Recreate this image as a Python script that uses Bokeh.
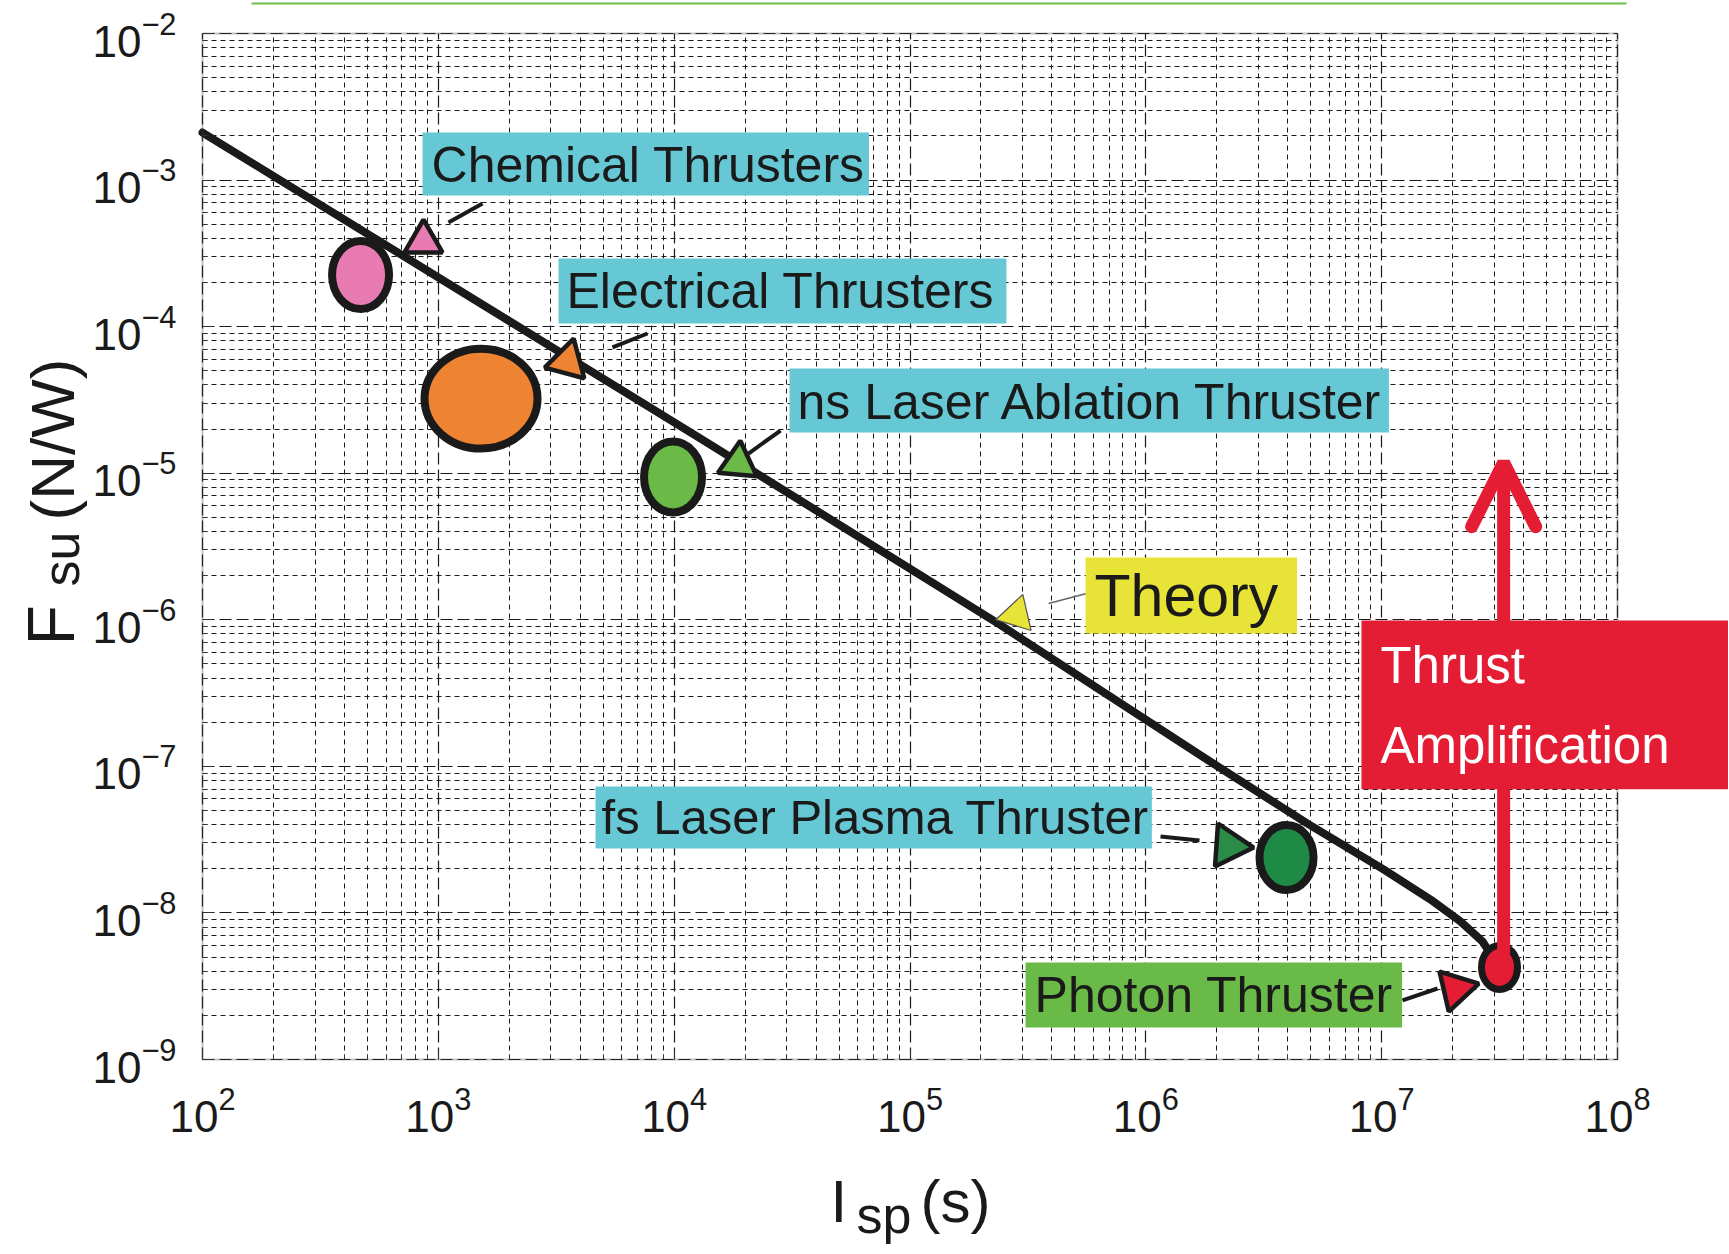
from bokeh.plotting import figure
from bokeh.models import Label, Arrow, OpenHead, FixedTicker, BoxAnnotation
from bokeh.embed import file_html
from bokeh.resources import INLINE

# ---------------- data ----------------
# theoretical curve (Isp in s, Fsu in N/W)
theory_isp = [1e2, 1.29e4, 2.37e5, 1.76e6, 4.85e6, 1.018e7, 1.612e7, 2.16e7, 2.677e7, 3.16e7]
theory_fsu = [2.11e-3, 1.73e-5, 9.4e-7, 1.15e-7, 4.07e-8, 1.98e-8, 1.234e-8, 8.74e-9, 6.38e-9, 4.25e-9]

# measured thrusters (ellipse markers)
thruster_names = ["Chemical Thrusters", "Electrical Thrusters", "ns Laser Ablation Thruster",
                  "fs Laser Plasma Thruster", "Photon Thruster"]
thruster_isp = [468, 1517, 9890, 3.95e6, 3.16e7]
thruster_fsu = [2.25e-4, 3.23e-5, 9.42e-6, 2.39e-8, 4.25e-9]
thruster_colors = ["#e97bb3", "#ee8432", "#6bb946", "#1e8a45", "#e41d35"]

# pointer triangles
pointer_names = ["Chemical Thrusters", "Electrical Thrusters", "ns Laser Ablation Thruster",
                 "Theory", "fs Laser Plasma Thruster", "Photon Thruster"]
pointer_isp = [865, 3530, 18710, 2.83e5, 2.25e6, 2.06e7]
pointer_fsu = [3.81e-4, 5.78e-5, 1.17e-5, 1.08e-6, 2.87e-8, 3.03e-9]
pointer_colors = ["#e97bb3", "#ee8432", "#6bb946", "#e8e337", "#2a8c46", "#e41d35"]

# axis ticks
x_ticks = [1e2, 1e3, 1e4, 1e5, 1e6, 1e7, 1e8]
y_ticks = [1e-9, 1e-8, 1e-7, 1e-6, 1e-5, 1e-4, 1e-3, 1e-2]

# ---------------- layout geometry (pixels) ----------------
W, H = 1728, 1252
BOX_L, BOX_R, BOX_T, BOX_B = 202, 1617, 33, 1059
XMIN, XMAX = x_ticks[0], x_ticks[-1]
YMIN, YMAX = y_ticks[0], y_ticks[-1]
dec_x = (BOX_R - BOX_L) / 6.0
dec_y = (BOX_B - BOX_T) / 7.0
# the frame covers the whole canvas so that annotations outside the axes box are not clipped
x_range = (10 ** (2 - BOX_L / dec_x), 10 ** (8 + (W - BOX_R) / dec_x))
y_range = (10 ** (-9 - (H - BOX_B) / dec_y), 10 ** (-2 + BOX_T / dec_y))

FONT = "Liberation Sans"
p = figure(width=W, height=H, x_axis_type="log", y_axis_type="log",
           x_range=x_range, y_range=y_range,
           output_backend="svg", toolbar_location=None, min_border=0)
p.background_fill_color = "white"
p.border_fill_color = "white"
p.outline_line_color = None

x_minor = [m * d for d in x_ticks[:-1] for m in range(2, 10)]
y_minor = [m * d for d in y_ticks[:-1] for m in range(2, 10)]
xt = FixedTicker(ticks=x_ticks, minor_ticks=x_minor)
yt = FixedTicker(ticks=y_ticks, minor_ticks=y_minor)
xax, yax = p.xaxis[0], p.yaxis[0]
xax.ticker = xt
yax.ticker = yt
xax.fixed_location = YMIN
yax.fixed_location = XMIN
xax.bounds = (XMIN, XMAX)
yax.bounds = (YMIN, YMAX)

for ax in (xax, yax):
    ax.axis_line_color = None
    ax.major_tick_in = 10
    ax.major_tick_out = 0
    ax.minor_tick_in = 5
    ax.minor_tick_out = 0
    ax.major_tick_line_color = "#333333"
    ax.minor_tick_line_color = "#333333"
    ax.major_label_text_font = FONT
    ax.major_label_text_font_size = "44px"
    ax.major_label_text_color = "#1a1a1a"
xax.major_label_standoff = 26
yax.major_label_standoff = 26

xg, yg = p.xgrid[0], p.ygrid[0]
xg.ticker = xt
yg.ticker = yt
mask_needed = False
try:
    xg.cross_bounds = (YMIN, YMAX)
    yg.cross_bounds = (XMIN, XMAX)
except Exception:
    mask_needed = True
xg.bounds = (XMIN, XMAX)
yg.bounds = (YMIN, YMAX)
for g in (xg, yg):
    g.grid_line_color = "#1a1a1a"
    g.grid_line_width = 1.2
    g.grid_line_dash = "12 5"
    g.minor_grid_line_color = "#1a1a1a"
    g.minor_grid_line_width = 1
    g.minor_grid_line_dash = "5 4"

if mask_needed:
    # white masks hiding grid lines outside the axes box
    p.quad(left=[x_range[0], x_range[0], x_range[0], XMAX],
           right=[x_range[1], x_range[1], XMIN, x_range[1]],
           bottom=[YMAX, y_range[0], y_range[0], y_range[0]],
           top=[y_range[1], YMIN, y_range[1], y_range[1]],
           fill_color="white", line_color=None)

# axes box outline
p.add_layout(BoxAnnotation(left=XMIN, right=XMAX, bottom=YMIN, top=YMAX,
                           fill_alpha=0, line_color="#3a3a3a", line_width=2))

# thin green rule at the very top of the slide
p.segment(x0=[161.4], y0=[0.01602], x1=[1.092e8], y1=[0.01602], line_color="#6cc04a", line_width=2)

# theory curve
p.line(theory_isp, theory_fsu, line_color="#1a1a1a", line_width=8, line_cap="round", line_join="round")

# thruster ellipses (sizes in screen pixels)
ell_w = [57, 113, 58, 54, 36]
ell_h = [68, 100, 71, 65, 44]
ell_lw = [8, 8, 8, 8, 7]
for i in range(len(thruster_isp)):
    p.ellipse(x=[thruster_isp[i]], y=[thruster_fsu[i]], width=ell_w[i], height=ell_h[i],
              width_units="screen", height_units="screen",
              fill_color=thruster_colors[i], line_color="#1a1a1a", line_width=ell_lw[i])

# pointer triangles
tri_size = [38, 41, 39, 37, 43, 41]
tri_angle = [0, -15, -5, -17, -94, -77]
tri_lw = [4.5, 4.5, 4.5, 1.2, 4.5, 4.5]
tri_line = ["#1a1a1a", "#1a1a1a", "#1a1a1a", "#555555", "#1a1a1a", "#1a1a1a"]
for i in range(len(pointer_isp)):
    p.scatter(x=[pointer_isp[i]], y=[pointer_fsu[i]], marker="triangle", size=tri_size[i],
              angle=tri_angle[i], angle_units="deg",
              fill_color=pointer_colors[i], line_color=tri_line[i], line_width=tri_lw[i])

# leader lines between labels and triangles
lead_x0 = [1104, 5476, 20660, 3.87e5, 1.154e6, 1.226e7]
lead_y0 = [5.14e-4, 7.21e-5, 1.363e-5, 1.29e-6, 3.32e-8, 2.53e-9]
lead_x1 = [1539, 7709, 28250, 5.60e5, 1.689e6, 1.725e7]
lead_y1 = [6.92e-4, 8.98e-5, 1.956e-5, 1.51e-6, 3.12e-8, 3.05e-9]
lead_w = [4, 4, 4, 1.5, 4, 4]
lead_c = ["#1a1a1a", "#1a1a1a", "#1a1a1a", "#666666", "#1a1a1a", "#1a1a1a"]
p.segment(x0=lead_x0, y0=lead_y0, x1=lead_x1, y1=lead_y1, line_width=lead_w, line_color=lead_c)

# thrust amplification arrow
p.add_layout(Arrow(end=OpenHead(size=64, line_color="#e41d35", line_width=13, line_cap="round"),
                   x_start=3.29e7, y_start=4.6e-9, x_end=3.29e7, y_end=1.18e-5,
                   line_color="#e41d35", line_width=13))

CYAN = "#67c8d5"

def box_label(text, x, y, bg, size, pad, color="#1a1a1a", lh=1.2):
    lab = Label(x=x, y=y, text=text, anchor="top_left",
                text_align="left", text_font=FONT, text_font_size=size, text_color=color,
                text_line_height=lh, background_fill_color=bg, border_line_color=None,
                padding=dict(left=pad[0], right=pad[1], top=pad[2], bottom=pad[3]))
    p.add_layout(lab)

box_label("Chemical Thrusters", 857, 2.11e-3, CYAN, "50px", (9, 4, 4, 3))
box_label("Electrical Thrusters", 3233, 2.917e-4, CYAN, "50px", (8, 12, 5, 4))
box_label("ns Laser Ablation Thruster", 30840, 5.18e-5, CYAN, "50px", (8, 5, 5, 3))
box_label("Theory", 5.55e5, 2.66e-6, "#e8e337", "59px", (9, 19, 5, 5))
box_label("fs Laser Plasma Thruster", 4640, 7.29e-8, CYAN, "49px", (6, 3, 4, 4))
box_label("Photon Thruster", 3.09e5, 4.59e-9, "#6aba48", "50px", (9, 9, 5, 4))
box_label("Thrust\nAmplification", 8.21e6, 9.89e-7, "#e41d35", "51px", (19, 90, 17, 15),
          color="white", lh=1.4)

# axis titles built from pieces (main text + subscript); anchor = middle-left of each piece
def axis_piece(text, x, y, size, angle=0):
    p.add_layout(Label(x=x, y=y, text=text, anchor="center_left",
                       text_font=FONT, text_font_size=size, text_color="#1a1a1a",
                       text_align="left", angle=angle, angle_units="deg"))

axis_piece("F", 22.89, 6.68e-7, "66px", 90)
axis_piece("su", 25.24, 1.687e-6, "52px", 90)
axis_piece("(N/W)", 23.23, 4.757e-6, "62px", 90)

axis_piece("I", 46020, 1.074e-10, "60px")
axis_piece("sp", 59330, 8.757e-11, "52px")
axis_piece("(s)", 1.108e5, 1.074e-10, "60px")

open("out.html", "w").write(file_html(p, INLINE))
